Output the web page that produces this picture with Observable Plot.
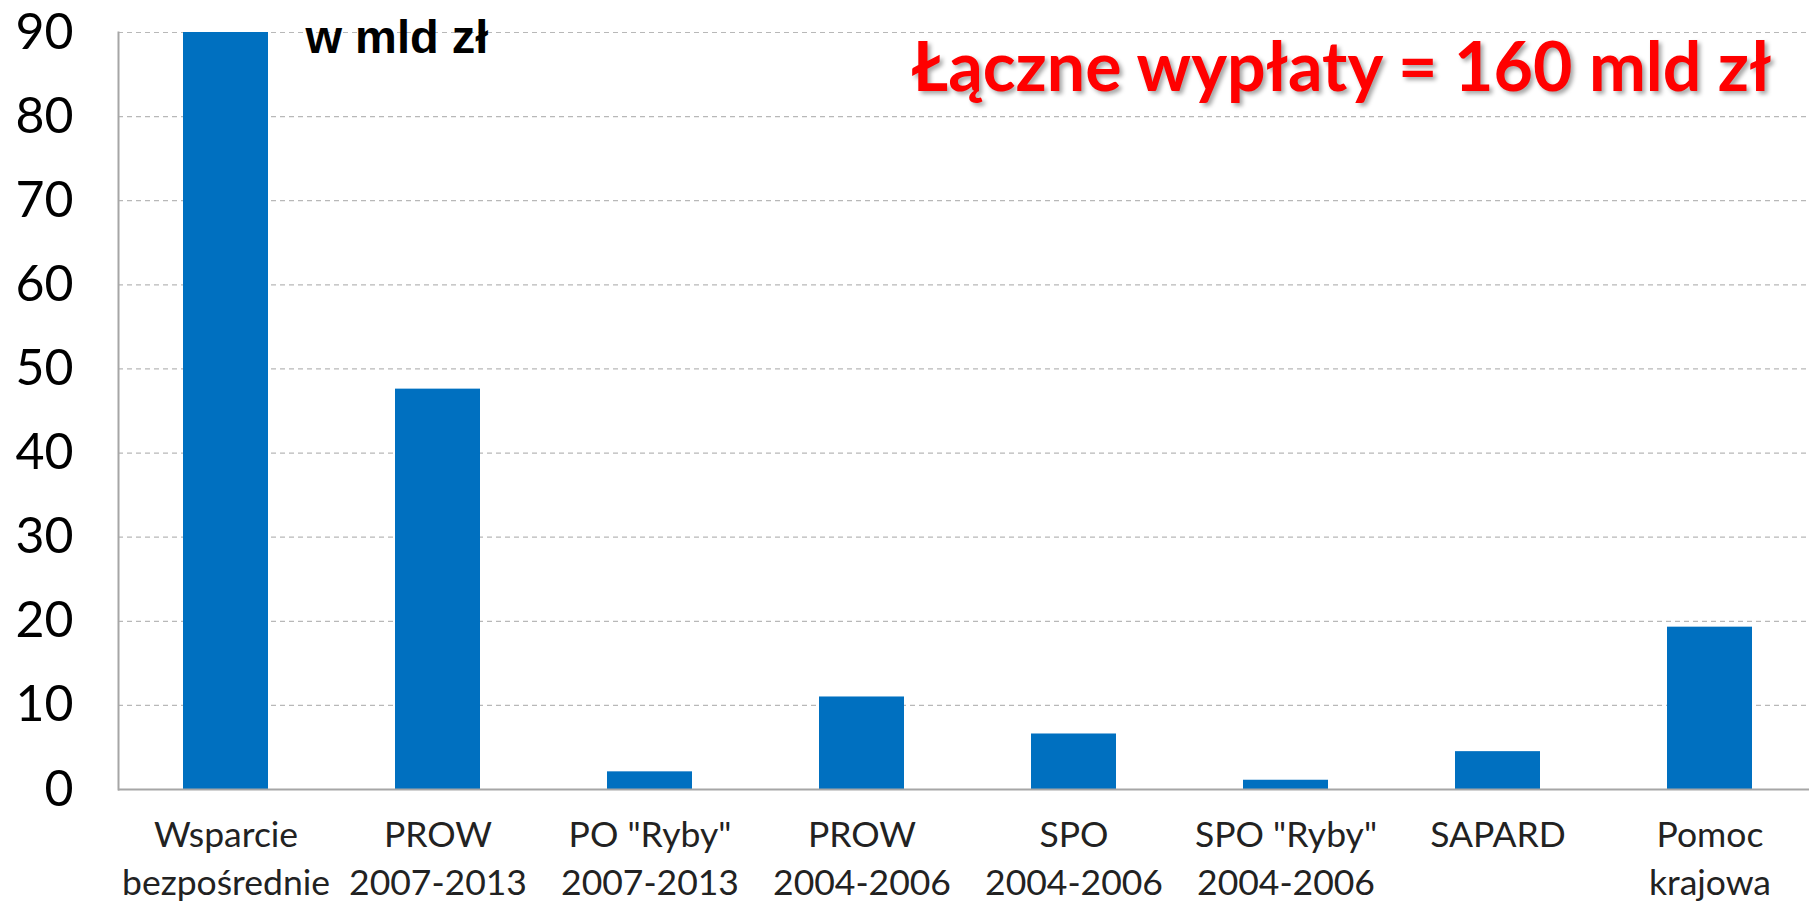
<!DOCTYPE html>
<html>
<head>
<meta charset="utf-8">
<script src="https://cdn.jsdelivr.net/npm/d3@7"></script>
<script src="https://cdn.jsdelivr.net/npm/@observablehq/plot@0.6"></script>
<style>
  html, body { margin: 0; padding: 0; background: #fff; }
  #chart svg { display: block; }
  #chart g[fill="#ff0000"] text { filter: drop-shadow(3px 3px 2px rgba(0,0,0,0.35)); }
</style>
</head>
<body>
<div id="chart"></div>
<script>
const categories = [
  "Wsparcie\nbezpośrednie",
  "PROW\n2007-2013",
  "PO \"Ryby\"\n2007-2013",
  "PROW\n2004-2006",
  "SPO\n2004-2006",
  "SPO \"Ryby\"\n2004-2006",
  "SAPARD",
  "Pomoc\nkrajowa"
];
const values = [90, 47.6, 2.1, 11.0, 6.6, 1.1, 4.5, 19.3];
const yTicks = [0, 10, 20, 30, 40, 50, 60, 70, 80, 90];
const unitLabel = ["w mld zł"];
const titleLabel = ["Łączne wypłaty = 160 mld zł"];

const data = categories.map((c, i) => ({cat: c, value: values[i]}));

const chart = Plot.plot({
  width: 1809,
  height: 902,
  marginLeft: 118,
  marginRight: 0,
  marginTop: 32,
  marginBottom: 113,
  style: {fontFamily: "Lato, sans-serif", background: "#fff", color: "#000"},
  x: {domain: categories, range: [118, 1817], paddingInner: 0.6, paddingOuter: 0.3},
  y: {domain: [0, 90]},
  marks: [
    Plot.ruleY(yTicks.filter(d => d > 0), {stroke: "#b8b8b8", strokeDasharray: "5,4", strokeWidth: 1.2}),
    Plot.barY(data, {x: "cat", y: "value", fill: "#0070C0"}),
    Plot.ruleY([0], {stroke: "#a6a6a6", strokeWidth: 2}),
    Plot.frame({anchor: "left", stroke: "#a6a6a6", strokeWidth: 2}),
    Plot.axisY({ticks: yTicks, tickSize: 0, tickPadding: 45, fontSize: 50, label: null, fill: "#000"}),
    Plot.axisX({tickSize: 0, tickPadding: 23, fontSize: 35.5, lineHeight: 1.36, label: null, fill: "#222"}),
    Plot.text(unitLabel, {frameAnchor: "top-left", textAnchor: "start", lineAnchor: "top", dx: 187, dy: -13, fontSize: 47, fontWeight: "bold", fontFamily: "Liberation Sans, Arial, sans-serif", fill: "#000"}),
    Plot.text(titleLabel, {frameAnchor: "top-right", textAnchor: "end", lineAnchor: "top", dx: -38, dy: 10, fontSize: 68, fontWeight: "bold", fontFamily: "Lato, sans-serif", fill: "#ff0000"})
  ]
});
document.getElementById("chart").append(chart);
</script>
</body>
</html>
